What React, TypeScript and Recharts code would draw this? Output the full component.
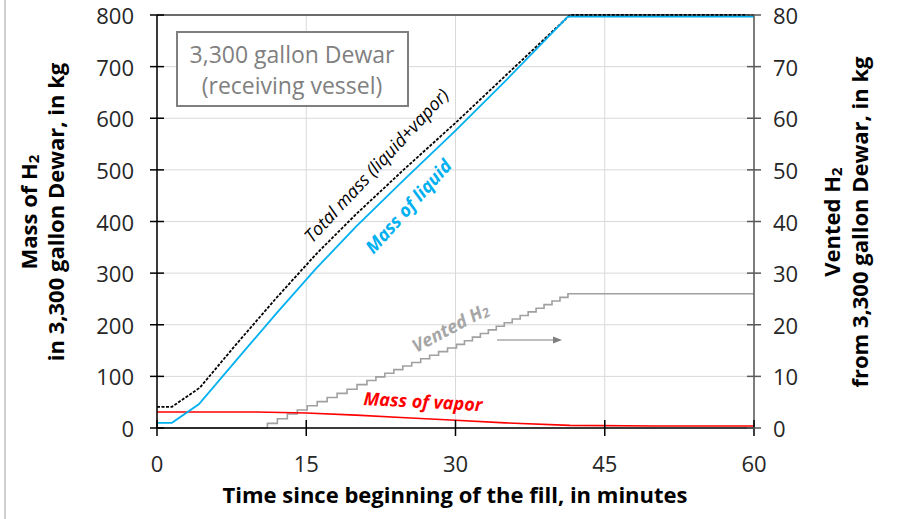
import React from 'react';
import { ComposedChart, Line, XAxis, YAxis, CartesianGrid, ReferenceLine } from 'recharts';

const FONT = '"Open Sans", "Noto Sans", sans-serif';

// Axis ticks
const timeTicks = [0, 15, 30, 45, 60];
const massTicks = [0, 100, 200, 300, 400, 500, 600, 700, 800];
const ventTicks = [0, 10, 20, 30, 40, 50, 60, 70, 80];

// Mass of liquid in the Dewar (kg) vs. time (min)
const liquidTime = [0, 1.5, 4.2, 8, 12, 16, 20, 25, 30, 35, 41.3, 60];
const liquidMass = [10, 10, 46, 132, 222, 309, 390, 484, 576, 672, 797, 797];

// Total mass, liquid + vapor (kg)
const totalTime = [0, 1.5, 4.3, 8, 12, 16, 20, 25, 30, 35, 41.5, 60];
const totalMass = [41, 41, 78, 163, 252, 337, 414, 504, 591, 682, 800, 800];

// Mass of vapor (kg)
const vaporTime = [0, 10, 15, 20, 25, 30, 35, 41.5, 50, 60];
const vaporMass = [31, 31, 29, 25, 20, 15, 10, 5, 4, 4];

// Cumulative vented H2 (kg, right axis)
const ventTime = [
  0, 11.1, 12.1, 13.1, 14.1, 15.1, 16.1, 17.1, 18.1, 19.1, 20.1, 21.1, 22.0, 22.9, 23.8,
  24.7, 25.6, 26.5, 27.4, 28.3, 29.2, 30.1, 30.9, 31.7, 32.5, 33.3, 34.1, 34.9, 35.7, 36.5,
  37.3, 38.1, 38.9, 39.7, 40.5, 41.3, 60,
];
const ventMass = [
  0, 0.9, 1.8, 2.7, 3.5, 4.3, 5.1, 5.9, 6.7, 7.5, 8.4, 9.2, 9.9, 10.6, 11.3,
  12.0, 12.7, 13.4, 14.1, 14.8, 15.5, 16.2, 16.9, 17.6, 18.3, 19.0, 19.7, 20.4, 21.1, 21.8,
  22.5, 23.2, 23.9, 24.6, 25.3, 26.0, 26.0,
];

const toRows = (ts: number[], vs: number[]) => ts.map((t, i) => ({ t, v: vs[i] }));

const liquidRows = toRows(liquidTime, liquidMass);
const totalRows = toRows(totalTime, totalMass);
const vaporRows = toRows(vaporTime, vaporMass);
const ventRows = toRows(ventTime, ventMass);

const tickText = { fontFamily: FONT, fontSize: 22, fill: '#262626' };

const LeftTick = (props: any) => {
  const { x, y, payload } = props;
  return (
    <g>
      <line x1={x - 7} x2={x + 7} y1={y} y2={y} stroke="#000" strokeWidth={1.5} />
      <text x={x - 23} y={y} textAnchor="end" dominantBaseline="central" {...tickText}>
        {payload.value}
      </text>
    </g>
  );
};

const RightTick = (props: any) => {
  const { x, y, payload } = props;
  return (
    <g>
      <line x1={x - 7} x2={x + 7} y1={y} y2={y} stroke="#595959" strokeWidth={1.5} />
      <text x={x + 19} y={y} textAnchor="start" dominantBaseline="central" {...tickText}>
        {payload.value}
      </text>
    </g>
  );
};

const BottomTick = (props: any) => {
  const { x, y, payload } = props;
  return (
    <g>
      <line x1={x} x2={x} y1={y - 8} y2={y + 8} stroke="#000" strokeWidth={1.5} />
      <text x={x} y={y + 35} textAnchor="middle" dominantBaseline="central" {...tickText}>
        {payload.value}
      </text>
    </g>
  );
};

const titleStyle = { fontFamily: FONT, fontSize: 22, fontWeight: 700, fill: '#000' };
const noteStyle = { fontFamily: FONT, fontStyle: 'italic' as const };

export default function App() {
  return (
    <div style={{ position: 'absolute', left: 0, top: 0, width: 904, height: 519, background: '#fff' }}>
      <div style={{ position: 'absolute', left: 4, top: 0, width: 2, height: 519, background: '#d0d0d0' }} />
      <div style={{ position: 'absolute', left: 0, top: 0 }}>
        <ComposedChart width={904} height={519} margin={{ top: 15, right: 0, left: 0, bottom: 0 }}>
          <CartesianGrid stroke="#d9d9d9" strokeWidth={1} />
          <XAxis
            type="number"
            dataKey="t"
            domain={[0, 60]}
            ticks={timeTicks}
            height={91}
            tickSize={0}
            tickMargin={0}
            tick={<BottomTick />}
            axisLine={{ stroke: '#000', strokeWidth: 1.5 }}
            interval={0}
          />
          <YAxis
            domain={[0, 800]}
            ticks={massTicks}
            width={157}
            tickSize={0}
            tickMargin={0}
            tick={<LeftTick />}
            axisLine={{ stroke: '#000', strokeWidth: 1.5 }}
            interval={0}
          />
          <YAxis
            yAxisId="right"
            orientation="right"
            domain={[0, 80]}
            ticks={ventTicks}
            width={150}
            tickSize={0}
            tickMargin={0}
            tick={<RightTick />}
            axisLine={{ stroke: '#595959', strokeWidth: 1.5 }}
            interval={0}
          />
          <ReferenceLine y={800} stroke="#404040" strokeWidth={1.5} />
          <Line
            yAxisId="right"
            data={ventRows}
            dataKey="v"
            type="stepAfter"
            stroke="#a0a0a0"
            strokeWidth={1.6}
            dot={false}
            isAnimationActive={false}
          />
          <Line
            data={vaporRows}
            dataKey="v"
            type="linear"
            stroke="#ff0000"
            strokeWidth={1.6}
            dot={false}
            isAnimationActive={false}
          />
          <Line
            data={totalRows}
            dataKey="v"
            type="linear"
            stroke="#000"
            strokeWidth={1.8}
            strokeDasharray="3 1.5"
            dot={false}
            isAnimationActive={false}
          />
          <Line
            data={liquidRows}
            dataKey="v"
            type="linear"
            stroke="#00b0f0"
            strokeWidth={1.8}
            dot={false}
            isAnimationActive={false}
          />
        </ComposedChart>
      </div>
      <svg
        width={904}
        height={519}
        style={{ position: 'absolute', left: 0, top: 0, pointerEvents: 'none' }}
      >
        {/* vessel caption */}
        <rect x={177} y={32} width={231} height={74} fill="#fff" stroke="#7f7f7f" strokeWidth={2} />
        <text x={292} y={54} textAnchor="middle" dominantBaseline="central" fontFamily={FONT} fontSize={23} fill="#7f7f7f">
          3,300 gallon Dewar
        </text>
        <text x={292} y={85} textAnchor="middle" dominantBaseline="central" fontFamily={FONT} fontSize={23} fill="#7f7f7f">
          (receiving vessel)
        </text>

        {/* series notes */}
        <text
          x={376}
          y={165}
          transform="rotate(-47 376 165)"
          textAnchor="middle"
          dominantBaseline="central"
          fontSize={18}
          fill="#000"
          {...noteStyle}
        >
          Total mass (liquid+vapor)
        </text>
        <text
          x={408}
          y={206}
          transform="rotate(-48 408 206)"
          textAnchor="middle"
          dominantBaseline="central"
          fontSize={18}
          fontWeight={700}
          fill="#00b0f0"
          {...noteStyle}
        >
          Mass of liquid
        </text>
        <text
          x={450}
          y={327}
          transform="rotate(-28 450 327)"
          textAnchor="middle"
          dominantBaseline="central"
          fontSize={18}
          fontWeight={700}
          fill="#a6a6a6"
          {...noteStyle}
        >
          Vented H<tspan fontSize={13} dy={4}>2</tspan>
        </text>
        <line x1={497} y1={340} x2={555} y2={340} stroke="#7f7f7f" strokeWidth={1.2} />
        <polygon points="562,340 553,336.5 553,343.5" fill="#7f7f7f" />
        <text
          x={423}
          y={401}
          transform="rotate(3 423 401)"
          textAnchor="middle"
          dominantBaseline="central"
          fontSize={18}
          fontWeight={700}
          fill="#ff0000"
          {...noteStyle}
        >
          Mass of vapor
        </text>

        {/* axis titles */}
        <text x={28} y={212} transform="rotate(-90 28 212)" textAnchor="middle" dominantBaseline="central" {...titleStyle}>
          Mass of H<tspan fontSize={15} dy={5}>2</tspan>
        </text>
        <text x={55} y={212} transform="rotate(-90 55 212)" textAnchor="middle" dominantBaseline="central" {...titleStyle}>
          in 3,300 gallon Dewar, in kg
        </text>
        <text x={831} y={222} transform="rotate(-90 831 222)" textAnchor="middle" dominantBaseline="central" {...titleStyle}>
          Vented H<tspan fontSize={15} dy={5}>2</tspan>
        </text>
        <text x={859} y={222} transform="rotate(-90 859 222)" textAnchor="middle" dominantBaseline="central" {...titleStyle}>
          from 3,300 gallon Dewar, in kg
        </text>
        <text x={455} y={494} textAnchor="middle" dominantBaseline="central" {...titleStyle}>
          Time since beginning of the fill, in minutes
        </text>
      </svg>
    </div>
  );
}
